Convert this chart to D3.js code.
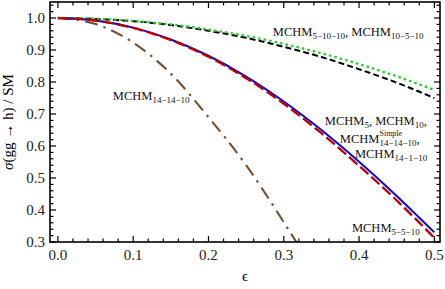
<!DOCTYPE html>
<html>
<head>
<meta charset="UTF-8">
<style>
  html, body { margin: 0; padding: 0; background: #fff; }
  svg { display: block; font-family: "Liberation Serif", "DejaVu Serif", serif; }
</style>
</head>
<body>
<svg id="chart" width="445" height="289"></svg>
<script src="https://d3js.org/d3.v7.min.js"></script>
<script>
// values
const eps = [0, 0.05, 0.1, 0.15, 0.2, 0.25, 0.3, 0.35, 0.4, 0.45, 0.5];
const mchm5 = [1, 0.992, 0.970, 0.933, 0.882, 0.817, 0.739, 0.650, 0.551, 0.444, 0.330];
const mchm5_5_10 = [1, 0.992, 0.969, 0.931, 0.879, 0.812, 0.732, 0.640, 0.538, 0.430, 0.313];
const mchm5_10_10 = [1, 0.998, 0.991, 0.980, 0.964, 0.944, 0.919, 0.890, 0.856, 0.818, 0.775];
const mchm10_5_10 = [1, 0.997, 0.990, 0.978, 0.960, 0.938, 0.910, 0.878, 0.840, 0.798, 0.750];
const epsBrown = [0, 0.05, 0.1, 0.15, 0.2, 0.25, 0.3, 0.33];
const mchm14_14_10 = [1, 0.981, 0.923, 0.826, 0.690, 0.540, 0.362, 0.25];

const xMajor = [0, 0.1, 0.2, 0.3, 0.4, 0.5];
const yMajor = [0.3, 0.4, 0.5, 0.6, 0.7, 0.8, 0.9, 1.0];

const svg = d3.select("#chart");
const L = 50, R = 440, T = 2, B = 242;

const x = d3.scaleLinear().domain([-0.0105, 0.5075]).range([L, R]);
const y = d3.scaleLinear().domain([0.3, 1.05]).range([B, T]);

svg.append("clipPath").attr("id", "clip")
  .append("rect").attr("x", L).attr("y", T).attr("width", R - L).attr("height", B - T);

const line = d3.line().x(d => x(d[0])).y(d => y(d[1])).curve(d3.curveMonotoneX);
const zip = (a, b) => a.map((v, i) => [v, b[i]]);

const series = [
  { xs: eps, ys: mchm10_5_10, color: "#000", dash: "6,3.2", w: 2 },
  { xs: eps, ys: mchm5_10_10, color: "#2ccc2c", dash: "2.6,3", w: 2.3 },
  { xs: epsBrown, ys: mchm14_14_10, color: "#735030", dash: "13,6,2.5,6", w: 2.1 },
  { xs: eps, ys: mchm5, color: "#0a0acc", dash: null, w: 2 },
  { xs: eps, ys: mchm5_5_10, color: "#c00000", dash: "11,4", w: 2.3 }
];

const g = svg.append("g").attr("clip-path", "url(#clip)");
series.forEach(s => {
  g.append("path")
    .attr("d", line(zip(s.xs, s.ys)))
    .attr("fill", "none")
    .attr("stroke", s.color)
    .attr("stroke-width", s.w)
    .attr("stroke-dasharray", s.dash);
});

// frame and ticks
const xMinor = d3.range(0, 0.5001, 0.02);
const yMinor = d3.range(0.3, 1.0401, 0.02);
const isMajor = (v, list) => list.some(m => Math.abs(m - v) < 1e-6);

const ax = svg.append("g").attr("stroke", "#000").attr("stroke-width", 1.2);
xMinor.forEach(v => {
  const len = isMajor(v, xMajor) ? 6 : 3.5;
  ax.append("line").attr("x1", x(v)).attr("x2", x(v)).attr("y1", B).attr("y2", B - len);
  ax.append("line").attr("x1", x(v)).attr("x2", x(v)).attr("y1", T).attr("y2", T + len);
});
yMinor.forEach(v => {
  const len = isMajor(v, yMajor) ? 6 : 3.5;
  ax.append("line").attr("y1", y(v)).attr("y2", y(v)).attr("x1", L).attr("x2", L + len);
  ax.append("line").attr("y1", y(v)).attr("y2", y(v)).attr("x1", R).attr("x2", R - len);
});
svg.append("rect").attr("x", L).attr("y", T).attr("width", R - L).attr("height", B - T)
  .attr("fill", "none").attr("stroke", "#000").attr("stroke-width", 1.6);

// tick labels
svg.append("g").selectAll("text").data(xMajor).join("text")
  .attr("x", d => x(d)).attr("y", 260)
  .attr("text-anchor", "middle").attr("font-size", 15).attr("fill", "#222")
  .text(d => d.toFixed(1));
svg.append("g").selectAll("text").data(yMajor).join("text")
  .attr("x", 45).attr("y", d => y(d) + 5)
  .attr("text-anchor", "end").attr("font-size", 15).attr("fill", "#222")
  .text(d => d.toFixed(1));

// axis titles
svg.append("text").attr("x", 245).attr("y", 281).attr("text-anchor", "middle")
  .attr("font-size", 15).text("ϵ");
const yt = svg.append("text").attr("transform", "translate(13,122) rotate(-90)")
  .attr("text-anchor", "middle").attr("font-size", 15);
yt.append("tspan").attr("font-style", "italic").text("σ");
yt.append("tspan").text("(gg → h) / SM");

// model labels: pieces of [base, sub, sup]
function label(ex, ey, pieces) {
  let cx = x(ex);
  const by = y(ey);
  pieces.forEach(([base, sub, sup]) => {
    const t = svg.append("text").attr("x", cx).attr("y", by).attr("font-size", 12.5).attr("fill", "#111").text(base);
    cx += t.node().getComputedTextLength();
    let w = 0;
    if (sub) {
      const s = svg.append("text").attr("x", cx).attr("y", by + 3).attr("font-size", 9).attr("fill", "#111").text(sub);
      w = Math.max(w, s.node().getComputedTextLength());
    }
    if (sup) {
      const s = svg.append("text").attr("x", cx).attr("y", by - 7).attr("font-size", 8).attr("fill", "#111").text(sup);
      w = Math.max(w, s.node().getComputedTextLength());
    }
    cx += w;
  });
}

label(0.2855, 0.944, [["MCHM", "5−10−10"], [", MCHM", "10−5−10"]]);
label(0.073, 0.744, [["MCHM", "14−14−10"]]);
label(0.3545, 0.666, [["MCHM", "5"], [", MCHM", "10"], [","]]);
label(0.3745, 0.609, [["MCHM", "14−14−10", "Simple"], [","]]);
label(0.3945, 0.5625, [["MCHM", "14−1−10"]]);
label(0.3905, 0.331, [["MCHM", "5−5−10"]]);
</script>
</body>
</html>
